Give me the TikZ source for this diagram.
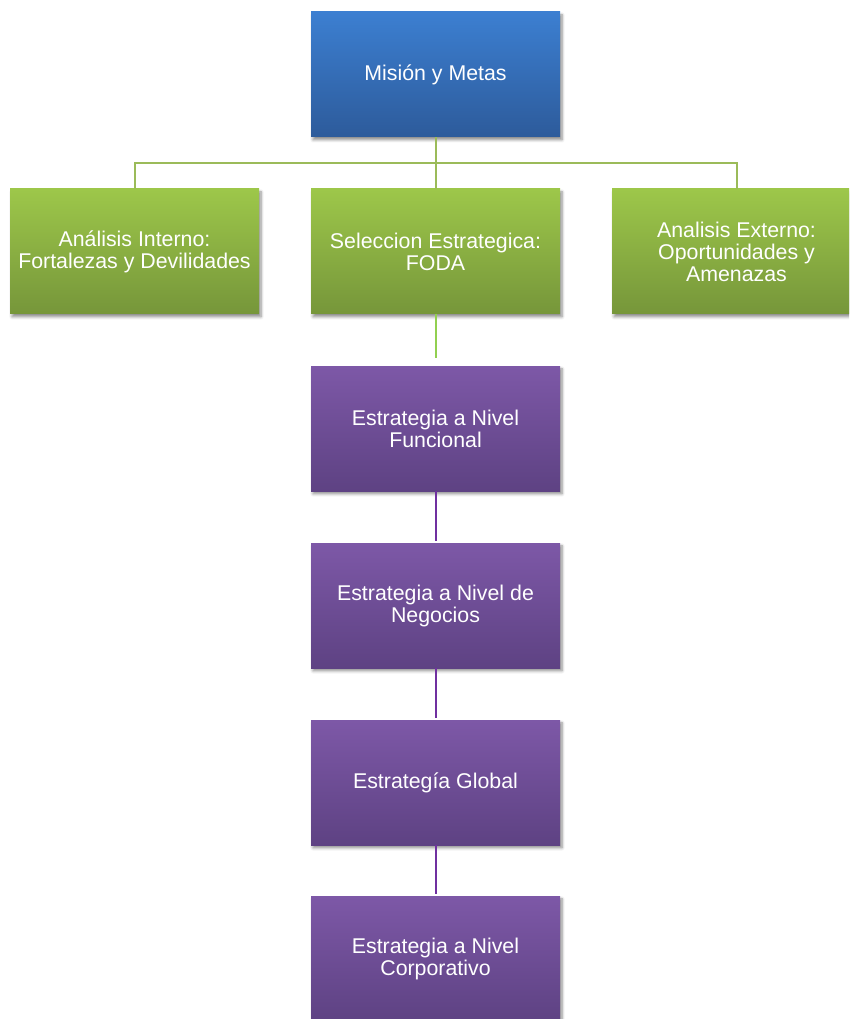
\documentclass[tikz,border=0pt]{standalone}
\usepackage{fontspec}
\setmainfont{Liberation Sans}
\usetikzlibrary{shadows.blur}
\definecolor{bluetop}{HTML}{3C7FD1}
\definecolor{bluebot}{HTML}{2D5B9B}
\definecolor{greentop}{HTML}{9DC74A}
\definecolor{greenbot}{HTML}{76963A}
\definecolor{purptop}{HTML}{7D58A7}
\definecolor{purpbot}{HTML}{5E4283}
\definecolor{linkgreen}{HTML}{9BBB59}
\definecolor{linklime}{HTML}{92D050}
\definecolor{linkpurp}{HTML}{7030A0}
\tikzset{
  boxbase/.style={rectangle, minimum width=186.75pt, minimum height=93.75pt,
    inner sep=0pt, align=center, text=white,
    font=\fontsize{16}{16.5}\selectfont,
    blur shadow={shadow xshift=1.5pt, shadow yshift=-2.2pt, shadow blur steps=6, shadow opacity=45}},
  bluebox/.style={boxbase, top color=bluetop, bottom color=bluebot},
  greenbox/.style={boxbase, top color=greentop, bottom color=greenbot},
  purpbox/.style={boxbase, top color=purptop, bottom color=purpbot},
  glink/.style={draw=linkgreen, line width=1.5pt},
  llink/.style={draw=linklime, line width=1.5pt},
  plink/.style={draw=linkpurp, line width=1.5pt}
}
\begin{document}
\begin{tikzpicture}[x=0.75pt,y=-0.75pt]
\useasboundingbox (0,0) rectangle (849,1019);
\clip (0,0) rectangle (849,1019);
\coordinate (bus) at (435.5,163);
\node[bluebox] (m) at (435.5,74.5) {Misión y Metas};
\node[greenbox] (a) at (134.5,251.5) {Análisis Interno:\\Fortalezas y Devilidades};
\node[greenbox] (b) at (435.5,251.5) {Seleccion Estrategica:\\FODA};
\node[greenbox] (c) at (736.5,251.5) {Analisis Externo:\\Oportunidades y\\Amenazas};
\node[purpbox] (p1) at (435.5,428.5) {Estrategia a Nivel\\Funcional};
\node[purpbox] (p2) at (435.5,605.5) {Estrategia a Nivel de\\Negocios};
\node[purpbox] (p3) at (435.5,782.5) {Estrategía Global};
\node[purpbox] (p4) at (435.5,958.5) {Estrategia a Nivel\\Corporativo};
\draw[glink] (m.south) -- (bus);
\draw[glink] (bus) -- (b.north);
\draw[glink] (a.north) -- (a.north |- bus) -- (c.north |- bus) -- (c.north);
\draw[llink, shorten >=5.5pt] (b.south) -- (p1.north);
\draw[plink, shorten >=1.2pt] (p1.south) -- (p2.north);
\draw[plink, shorten >=1.2pt] (p2.south) -- (p3.north);
\draw[plink, shorten >=1.2pt] (p3.south) -- (p4.north);
\end{tikzpicture}
\end{document}
